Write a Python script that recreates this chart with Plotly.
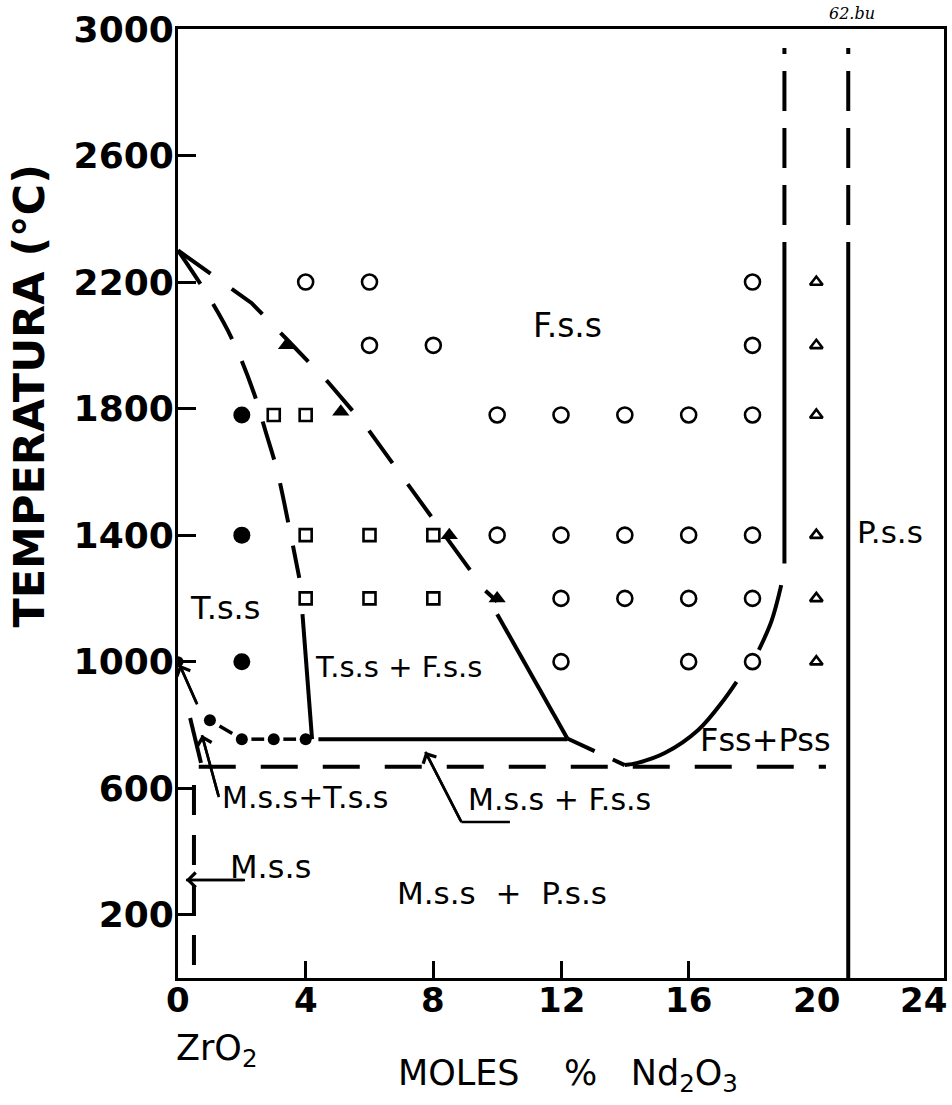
import numpy as np
import plotly.graph_objects as go

FONT = "DejaVu Sans"
INK = "black"

# ---------------- experimental points (mol % Nd2O3, temperature °C) ----------------
# F.s.s  (open circles)
fss_x = [4, 6, 18, 6, 8, 18, 10, 12, 14, 16, 18, 10, 12, 14, 16, 18, 12, 14, 16, 18, 12, 16, 18]
fss_t = [2200, 2200, 2200, 2000, 2000, 2000, 1780, 1780, 1780, 1780, 1780,
         1400, 1400, 1400, 1400, 1400, 1200, 1200, 1200, 1200, 1000, 1000, 1000]
# T.s.s + F.s.s  (open squares)
tf_x = [3, 4, 4, 6, 8, 4, 6, 8]
tf_t = [1780, 1780, 1400, 1400, 1400, 1200, 1200, 1200]
# T.s.s  (filled circles)
tss_x = [2, 2, 2]
tss_t = [1780, 1400, 1000]
# boundary points  (filled triangles)
bnd_x = [3.4, 5.1, 8.5, 10.0]
bnd_t = [2000, 1790, 1400, 1200]
# F.s.s + P.s.s side  (open triangles)
fp_x = [20, 20, 20, 20, 20, 20]
fp_t = [2200, 2000, 1780, 1400, 1200, 1000]
# eutectoid dots
eut_x = [1, 2, 3, 4]
eut_t = [815, 755, 755, 755]
# ZrO2 transformation point on the axis
zr_x = [0]
zr_t = [1000]

# ---------------- phase boundaries ----------------
# T.s.s / T.s.s + F.s.s (dashed, then solid)
tb_dash_x = [0, 1.06, 1.75, 2.375, 2.75, 3.1, 3.47, 3.8]
tb_dash_t = [2300, 2137, 2008, 1850, 1726, 1606, 1432, 1265]
tb_solid_x = [3.9, 4.2]
tb_solid_t = [1150, 755]
# F.s.s / T.s.s + F.s.s (dashed, then solid, then dashed to the eutectoid)
fb_dash_x = [0, 1.3, 2.3, 3.4, 4.7, 5.9, 7.1, 7.9, 8.8, 9.6, 10.0]
fb_dash_t = [2300, 2205, 2134, 2020, 1884, 1742, 1574, 1464, 1337, 1227, 1190]
fb_solid_x = [10.0, 12.2]
fb_solid_t = [1150, 757]
fb_low_x = [12.2, 14.0]
fb_low_t = [757, 673]
# F.s.s / F.s.s + P.s.s
fp_curve_x = [14.0, 14.4, 15.25, 16.3, 17.1, 17.5]
fp_curve_t = [673, 680, 711, 784, 879, 936]
fp_curve2_x = [18.2, 18.6, 18.9]
fp_curve2_t = [1037, 1130, 1242]
v19_x = [19, 19]
v19_solid_t = [1310, 2200]
v19_dash_t = [2200, 2940]
v21_x = [21, 21]
v21_solid_t = [0, 2200]
v21_dash_t = [2200, 2940]
# eutectoid / monotectoid horizontals
eut_line_x = [4.4, 12.2]
eut_line_t = [755, 755]
low_line_x = [0.65, 20.3]
low_line_t = [668, 668]
# monoclinic side
m_vert_x = [0.5, 0.5]
m_vert_t = [610, 0]
m_dash_x = [0.38, 0.72]
m_dash_t = [822, 680]

# axis ticks
x_ticks = [0, 4, 8, 12, 16, 20, 24]
x_tick_marks = [0, 4, 8, 12, 16]
y_ticks = [200, 600, 1000, 1400, 1800, 2200, 2600, 3000]

fig = go.Figure()


def add_line(x, y, dash="solid", width=4, shape="linear"):
    fig.add_trace(go.Scatter(x=x, y=y, mode="lines",
                             line=dict(color=INK, width=width, dash=dash, shape=shape),
                             hoverinfo="skip"))


def add_marks(x, y, symbol, size, lw=0):
    fig.add_trace(go.Scatter(x=x, y=y, mode="markers",
                             marker=dict(symbol=symbol, size=size, color=INK,
                                         line=dict(color=INK, width=lw)),
                             hoverinfo="skip"))


add_line(tb_dash_x, tb_dash_t, "40px,24px", shape="spline")
add_line(tb_solid_x, tb_solid_t)
add_line(fb_dash_x, fb_dash_t, "40px,26px")
add_line(fb_solid_x, fb_solid_t)
add_line(fb_low_x, fb_low_t, "30px,20px")
add_line(fp_curve_x, fp_curve_t, shape="spline")
add_line(fp_curve2_x, fp_curve2_t, shape="spline")
add_line(v19_x, v19_solid_t)
add_line(v19_x, v19_dash_t, "40px,17px")
add_line(v21_x, v21_solid_t)
add_line(v21_x, v21_dash_t, "40px,17px")
add_line(eut_line_x, eut_line_t)
add_line(low_line_x, low_line_t, "37px,25px")
add_line(m_vert_x, m_vert_t, "30px,20px")
add_line(m_dash_x, m_dash_t)

# short dashes joining the eutectoid dots
ex, et = np.array(eut_x, float), np.array(eut_t, float)
seg_x, seg_t = [], []
for i in range(len(ex) - 1):
    for f in (0.3, 0.7):
        seg_x.append(ex[i] + f * (ex[i + 1] - ex[i]))
        seg_t.append(et[i] + f * (et[i + 1] - et[i]))
    seg_x.append(None)
    seg_t.append(None)
add_line(seg_x, seg_t, width=3.5)

add_marks(fss_x, fss_t, "circle-open", 15, 2.6)
add_marks(tf_x, tf_t, "square-open", 12, 2.6)
add_marks(tss_x, tss_t, "circle", 17)
add_marks(bnd_x, bnd_t, "triangle-up", 15)
add_marks(fp_x, fp_t, "triangle-up-open", 11, 2.6)
add_marks(eut_x, eut_t, "circle", 12)
add_marks(zr_x, zr_t, "circle", 11)

# ---------------- region labels ----------------
labels = [
    ("F.s.s", 12.2, 2064, 33),
    ("T.s.s", 1.47, 1170, 32),
    ("T.s.s + F.s.s", 6.9, 983, 29),
    ("M.s.s+T.s.s", 3.97, 572, 30),
    ("M.s.s + F.s.s", 11.94, 563, 30),
    ("M.s.s", 2.9, 351, 32),
    ("M.s.s\u00a0\u00a0+\u00a0\u00a0P.s.s", 10.16, 269, 31),
    ("Fss+Pss", 18.4, 752, 32),
    ("P.s.s", 22.3, 1410, 31),
]
annotations = []
for txt, x, y, s in labels:
    annotations.append(dict(text=txt, x=x, y=y, xref="x", yref="y", showarrow=False,
                            xanchor="center", yanchor="middle",
                            font=dict(family=FONT, size=s, color=INK)))

# pointer lines with arrowheads: (head, tail)
arrows = [
    ((0.05, 990), (0.6, 865)),
    ((0.75, 768), (1.28, 572)),
    ((7.75, 715), (8.88, 493)),
    ((0.25, 310), (2.1, 310)),
]
for (hx, hy), (tx, ty) in arrows:
    add_line([tx, hx], [ty, hy], width=2.6)
    annotations.append(dict(text="", x=hx, y=hy, ax=tx, ay=ty, xref="x", yref="y",
                            axref="x", ayref="y", showarrow=True, arrowhead=4,
                            arrowsize=1.1, arrowwidth=2.6, arrowcolor=INK))
add_line([8.88, 10.4], [493, 493], width=2.6)

# x tick labels (the last one is pulled inside the frame)
for v in x_ticks:
    last = v == x_ticks[-1]
    annotations.append(dict(text=str(v), x=v, y=0, xref="x", yref="paper", showarrow=False,
                            xanchor="right" if last else "center", yanchor="top",
                            xshift=5 if last else 0, yshift=0,
                            font=dict(family=FONT, size=34, color=INK, weight="bold")))

# plot area is 769 x 949 px; titles are placed in paper units from pixel offsets
PW, PH = 769.0, 949.0
NB = "\u00a0"
annotations += [
    dict(text="TEMPERATURA (°C)", x=-150 / PW, y=(978 - 396) / PH, xref="paper", yref="paper",
         xanchor="center", yanchor="middle", showarrow=False, textangle=-90,
         font=dict(family=FONT, size=43, color=INK, weight="bold")),
    dict(text="ZrO<sub>2</sub>", x=-4 / PW, y=-72 / PH, xref="paper", yref="paper",
         showarrow=False, xanchor="left", yanchor="middle",
         font=dict(family=FONT, size=35, color=INK)),
    dict(text="MOLES" + NB * 4 + "%" + NB * 3 + "Nd<sub>2</sub>O<sub>3</sub>",
         x=(570 - 178) / PW, y=-97 / PH, xref="paper", yref="paper", showarrow=False,
         xanchor="center", yanchor="middle", font=dict(family=FONT, size=35, color=INK)),
    dict(text="<i>62.bu</i>", x=(855 - 178) / PW, y=1 + 15 / PH, xref="paper", yref="paper",
         showarrow=False, xanchor="center", yanchor="middle",
         font=dict(family="DejaVu Serif", size=16, color=INK)),
]

fig.update_layout(
    width=952, height=1105,
    margin=dict(l=178, r=5, t=29, b=127, pad=0),
    plot_bgcolor="white", paper_bgcolor="white",
    showlegend=False,
    annotations=annotations,
    xaxis=dict(range=[0, 24], showgrid=False, zeroline=False, showline=True,
               linecolor=INK, linewidth=3, mirror=True, ticks="inside", ticklen=17,
               tickwidth=2.5, tickcolor=INK, tickvals=x_tick_marks, showticklabels=False),
    yaxis=dict(range=[0, 3000], showgrid=False, zeroline=False, showline=True,
               linecolor=INK, linewidth=3, mirror=True, ticks="inside", ticklen=18,
               tickwidth=2.5, tickcolor=INK, tickvals=y_ticks, ticklabelstandoff=-6,
               tickfont=dict(family=FONT, size=36, color=INK, weight="bold")),
)

fig.write_html("out.html")
